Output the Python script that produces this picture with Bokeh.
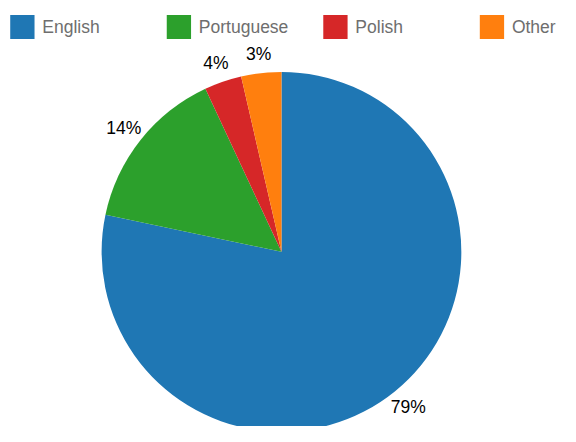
import numpy as np
from bokeh.plotting import figure
from bokeh.models import Range1d, ColumnDataSource
from bokeh.core.properties import value
from bokeh.embed import file_html
from bokeh.resources import INLINE

# ---- data ----
languages = ["English", "Portuguese", "Polish", "Other"]
shares = [78.3, 14.75, 3.35, 3.6]
pct_labels = ["79%", "14%", "4%", "3%"]
colors = ["#1f77b4", "#2ca02c", "#d62728", "#ff7f0e"]

# ---- layout constants (reference frame 576x442, data y = 442 - frame y) ----
W, H = 560, 426
CX, CY = 289.0, 442 - 260.7
R = 185.0
LABEL_R = 207.0
FONT = "Liberation Sans"
FS = "17.5px"

p = figure(width=W, height=H, x_range=Range1d(0, 576), y_range=Range1d(0, 442),
           output_backend="svg", toolbar_location=None, min_border=0,
           x_axis_location=None, y_axis_location=None)
p.grid.visible = False
p.outline_line_color = None
p.background_fill_color = "white"
p.border_fill_color = "white"

frac = np.array(shares, dtype=float)
frac = frac / frac.sum()
cum = np.cumsum(frac)
start = np.pi / 2 - 2 * np.pi * (cum - frac)
end = np.pi / 2 - 2 * np.pi * cum
mid = (start + end) / 2

src = ColumnDataSource(dict(lang=languages, start=start, end=end, color=colors,
                            lx=CX + LABEL_R * np.cos(mid),
                            ly=CY + LABEL_R * np.sin(mid),
                            lab=pct_labels))

p.wedge(x=CX, y=CY, radius=R, start_angle="start", end_angle="end",
        direction="clock", fill_color="color", line_color=None, source=src)

p.text(x="lx", y="ly", text="lab", source=src, text_align="center",
       text_baseline="middle", text_font=value(FONT),
       text_font_size=FS, text_color="#000000")

# legend (manual, evenly spaced like the reference)
n = len(languages)
idx = np.arange(n)
leg = ColumnDataSource(dict(
    sx=22.5 + 161 * idx, sy=np.full(n, 442 - 27.5),
    tx=43.0 + 161 * idx, ty=np.full(n, 442 - 27.0),
    name=languages, color=colors))
p.rect(x="sx", y="sy", width=25, height=25, fill_color="color",
       line_color=None, source=leg)
p.text(x="tx", y="ty", text="name", source=leg, text_align="left",
       text_baseline="middle", text_font=value(FONT),
       text_font_size=FS, text_color="#6e6e6e")

open("out.html", "w").write(file_html(p, INLINE))
